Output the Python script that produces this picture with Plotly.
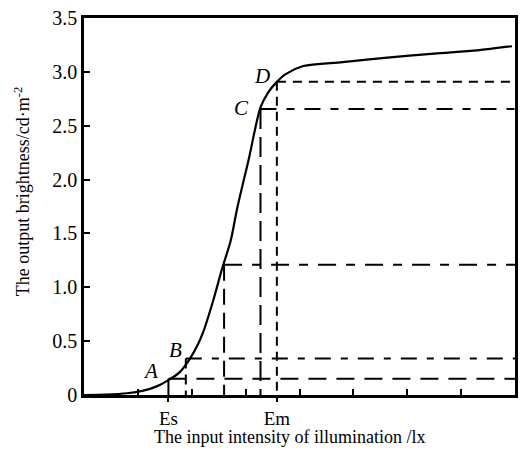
import plotly.graph_objects as go

# curve data (input intensity in axis units, output brightness cd/m^2)
curve_x = [0, 0.4, 0.8, 1.1, 1.35, 1.567, 1.782, 1.967, 2.12, 2.212, 2.40, 2.568,
           2.72, 2.844, 3.06, 3.276, 3.42, 3.58, 3.736, 4.07, 4.8, 5.58, 6.5, 7.3, 7.945]
curve_y = [0, 0.004, 0.016, 0.04, 0.08, 0.138, 0.215, 0.338, 0.476, 0.583, 0.88, 1.181,
           1.427, 1.734, 2.194, 2.67, 2.81, 2.907, 2.977, 3.054, 3.09, 3.13, 3.17, 3.2, 3.238]

# marked points
pt_names = ["A", "B", "P", "C", "D"]
pt_x = [1.567, 1.89, 2.6, 3.276, 3.58]
pt_y = [0.15, 0.34, 1.21, 2.655, 2.907]

x_max = 8
y_ticks = [0, 0.5, 1.0, 1.5, 2.0, 2.5, 3.0, 3.5]
y_ticktext = ["0", "0.5", "1.0", "1.5", "2.0", "2.5", "3.0", "3.5"]
x_minor_ticks = [1, 2, 3, 4, 5, 6, 7]
x_label_ticks = [1.567, 3.58]
x_label_text = ["Es", "Em"]

label_names = ["A", "B", "C", "D"]
label_x = [1.23, 1.7, 2.93, 3.31]
label_y = [0.22, 0.42, 2.66, 2.96]

h_dash = ["18px,10px", "16px,10px,7px,10px", "18px,10px,9px,10px", "16px,10px,8px,10px", "9px,7px"]
v_dash = ["solid", "10px,6px", "16px,8px", "20px,8px", "9px,6px"]

fig = go.Figure()

for i in range(len(pt_x)):
    fig.add_trace(go.Scatter(x=[pt_x[i], x_max], y=[pt_y[i], pt_y[i]], mode="lines",
                             line=dict(color="black", width=2, dash=h_dash[i]),
                             showlegend=False, hoverinfo="skip"))
    fig.add_trace(go.Scatter(x=[pt_x[i], pt_x[i]], y=[pt_y[i], 0], mode="lines",
                             line=dict(color="black", width=2, dash=v_dash[i]),
                             showlegend=False, hoverinfo="skip"))

fig.add_trace(go.Scatter(x=curve_x, y=curve_y, mode="lines",
                         line=dict(color="black", width=2.2, shape="spline", smoothing=0.8),
                         showlegend=False))

# overlay axis for Es / Em labels
fig.add_trace(go.Scatter(x=[0], y=[0], xaxis="x2", mode="markers",
                         marker=dict(opacity=0), showlegend=False, hoverinfo="skip"))

serif = "Liberation Serif, Times New Roman, serif"

for n, lx, ly in zip(label_names, label_x, label_y):
    fig.add_annotation(x=lx, y=ly, text="<i>" + n + "</i>", showarrow=False,
                       font=dict(family=serif, size=21, color="black"))

fig.add_annotation(x=0.477, y=-0.1105, xref="paper", yref="paper",
                   xanchor="center", yanchor="middle",
                   text="The input intensity of illumination /lx", showarrow=False,
                   font=dict(family=serif, size=18, color="black"))
fig.add_annotation(x=-0.1429, y=0.539, xref="paper", yref="paper", textangle=-90,
                   xanchor="center", yanchor="middle",
                   text="The output brightness/cd·m<sup>-2</sup>", showarrow=False,
                   font=dict(family=serif, size=18, color="black"))

fig.update_layout(
    width=525, height=451,
    margin=dict(l=84, r=7, t=15, b=56),
    plot_bgcolor="white", paper_bgcolor="white",
    font=dict(family=serif, color="black"),
    xaxis=dict(range=[0, x_max], tickvals=x_minor_ticks, showticklabels=False,
               ticks="inside", ticklen=6, tickwidth=2, tickcolor="black",
               showline=True, linewidth=2.5, linecolor="black", mirror=True,
               showgrid=False, zeroline=False),
    xaxis2=dict(range=[0, x_max], overlaying="x", side="bottom", anchor="y",
                tickvals=x_label_ticks, ticktext=x_label_text,
                ticks="outside", ticklen=6, tickwidth=2, tickcolor="black",
                tickfont=dict(size=19), showline=False, showgrid=False, zeroline=False),
    yaxis=dict(range=[0, 3.5], tickvals=y_ticks, ticktext=y_ticktext,
               ticks="inside", ticklen=6, tickwidth=2, tickcolor="black",
               tickfont=dict(size=20),
               showline=True, linewidth=2.5, linecolor="black", mirror=True,
               showgrid=False, zeroline=False),
)

fig.write_html("out.html")
